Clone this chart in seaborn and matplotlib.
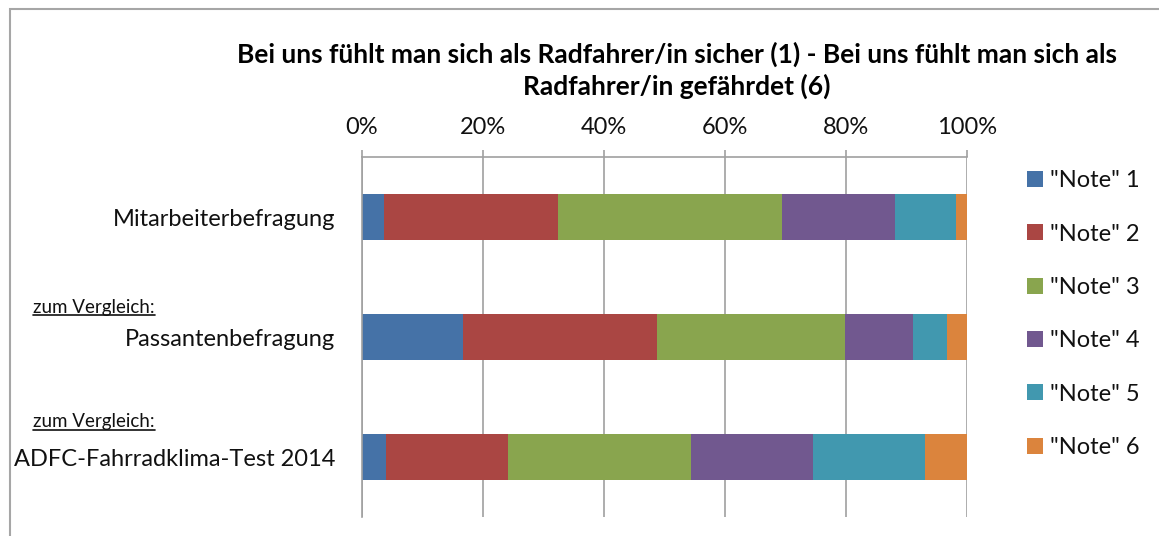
import pandas as pd
import matplotlib
matplotlib.use("Agg")
import matplotlib.pyplot as plt
from matplotlib.patches import Patch, Rectangle
from matplotlib.lines import Line2D
import seaborn as sns

groups = ["Mitarbeiterbefragung", "Passantenbefragung", "ADFC-Fahrradklima-Test 2014"]
notes = ['"Note" 1', '"Note" 2', '"Note" 3', '"Note" 4', '"Note" 5', '"Note" 6']
note_1 = [3.6, 16.7, 3.9]
note_2 = [28.8, 32.1, 20.3]
note_3 = [37.1, 31.0, 30.2]
note_4 = [18.6, 11.3, 20.2]
note_5 = [10.1, 5.6, 18.4]
note_6 = [1.8, 3.3, 7.0]
colors = ["#4572A7", "#AA4643", "#89A54E", "#71588F", "#4198AF", "#DB843D"]
xticks = [0, 20, 40, 60, 80, 100]
title = ("Bei uns fühlt man sich als Radfahrer/in sicher (1) - Bei uns fühlt man sich als\n"
         "Radfahrer/in gefährdet (6)")

rows = []
for note, vals in zip(notes, [note_1, note_2, note_3, note_4, note_5, note_6]):
    for g, v in zip(groups, vals):
        rows.append({"group": g, "note": note, "share": v})
df = pd.DataFrame(rows)
df["cum"] = df.groupby("group")["share"].cumsum()

sns.set_style("white")
plt.rcParams["font.family"] = ["Lato", "DejaVu Sans"]
txt = "#111111"
grey = "#a0a0a0"

W, H = 1159, 536
fig = plt.figure(figsize=(W / 100, H / 100), dpi=100)
ax = fig.add_axes([362 / W, 1 - 517 / H, 605 / W, 360 / H])

# stacked bars: draw cumulative totals from the last note to the first
for note, c in reversed(list(zip(notes, colors))):
    sns.barplot(data=df[df["note"] == note], x="cum", y="group", order=groups,
                color=c, saturation=1, width=0.39, linewidth=0, orient="h", ax=ax)

ax.set_xlim(0, 100)
ax.set_ylim(2.5, -0.5)
ax.set_xticks(xticks)
ax.set_xticklabels([f"{t}%" for t in xticks])
ax.xaxis.tick_top()
ax.set_xlabel("")
ax.set_ylabel("")
ax.grid(axis="x", color=grey, lw=1.2)
ax.set_axisbelow(True)
for s in ["right", "bottom"]:
    ax.spines[s].set_visible(False)
for s in ["top", "left"]:
    ax.spines[s].set_color(grey)
    ax.spines[s].set_linewidth(1.2)
ax.tick_params(axis="x", which="major", direction="out", length=5, width=1.2,
               color=grey, labelsize=17, labelcolor=txt, pad=9)
ax.tick_params(axis="y", which="major", length=0, labelsize=17, labelcolor=txt, pad=19)
ax.set_yticks([-0.5, 0.5, 1.5, 2.5], minor=True)
ax.tick_params(axis="y", which="minor", direction="out", length=5, width=1.2, color=grey)

fig.text(677 / W, 1 - 70 / H, title, ha="center", va="center", ma="center",
         fontsize=19, fontweight="bold", color="black", linespacing=1.3)

handles = [Patch(facecolor=c, edgecolor="none", label=n) for n, c in zip(notes, colors)]
fig.legend(handles=handles, loc="upper left", bbox_to_anchor=(1006 / W, 1 - 149 / H),
           frameon=False, fontsize=17, handlelength=0.65, handleheight=0.65,
           handletextpad=0.3, labelspacing=1.37, labelcolor=txt)

# outer chart frame (runs off the right and bottom edges)
fig.patches.append(Rectangle((10 / W, -0.1), 1.2, 1 - 9 / H + 0.1, transform=fig.transFigure,
                             fill=False, edgecolor="#a6a6a6", lw=1.5, clip_on=False))

notes_txt = []
for y in [307, 422]:
    notes_txt.append(fig.text(33 / W, 1 - y / H, "zum Vergleich:", ha="left", va="center",
                              fontsize=13.5, color=txt))
fig.canvas.draw()
r = fig.canvas.get_renderer()
for t in notes_txt:
    bb = t.get_window_extent(r)
    fig.lines.append(Line2D([bb.x0 / W, bb.x1 / W], [(bb.y0 + 1) / H] * 2,
                            transform=fig.transFigure, color=txt, lw=1.2))

fig.savefig("out.png", dpi=100)
